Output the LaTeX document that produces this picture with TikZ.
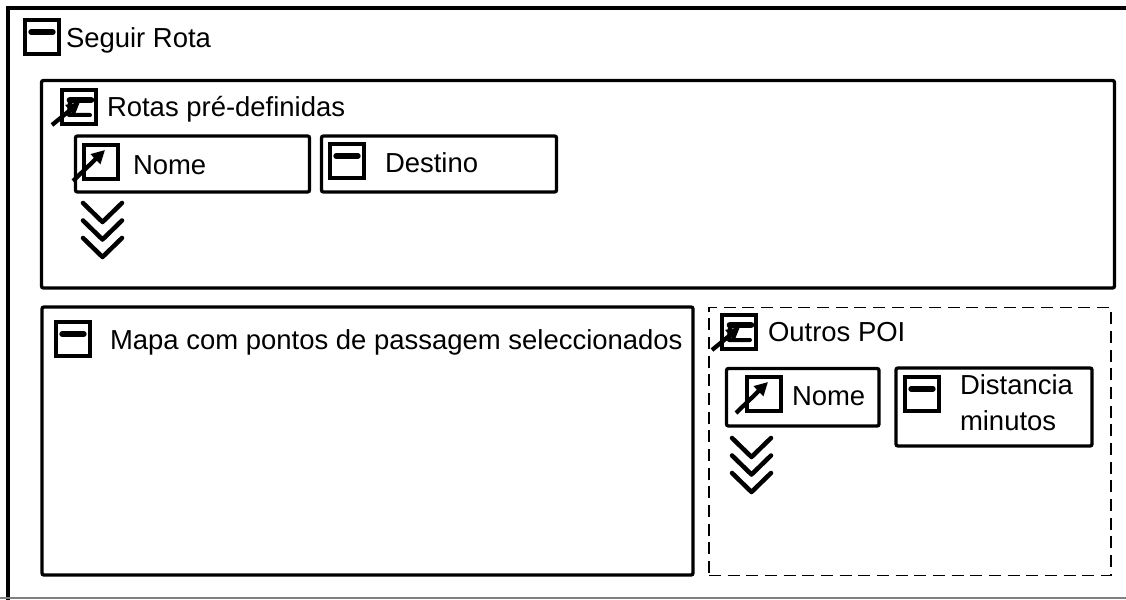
\documentclass[tikz,border=0pt]{standalone}
\usepackage{fontspec}
\setmainfont{Liberation Sans}
\usetikzlibrary{arrows.meta}
\begin{document}
\begin{tikzpicture}[x=0.75pt,y=-0.75pt,
  frame/.style={draw, line width=2.5pt, rounded corners=1.5pt, inner sep=0pt, outer sep=0pt, anchor=north west},
  dashframe/.style={draw, line width=1.4pt, dash pattern=on 9pt off 5pt, inner sep=0pt, outer sep=0pt, anchor=north west},
  lbl/.style={anchor=base west, inner sep=0pt, outer sep=0pt, font=\fontsize{20.6pt}{24pt}\selectfont},
  iconline/.style={line width=3.5pt},
  iconbar/.style={line width=4pt, line cap=round},
  iconarrow/.style={line width=3.2pt, -{Triangle[length=10pt,width=10pt]}},
  chevline/.style={line width=3.4pt, line cap=round, line join=round},
  minusicon/.pic={
    \draw[iconline] (2,2) rectangle (36,36);
    \draw[iconbar] (8,14) -- (30,14);
  },
  linkicon/.pic={
    \draw[iconline] (2,2) rectangle (36,36);
    \draw[iconarrow] (-9,38) -- (23,7);
  },
  conticon/.pic={
    \draw[iconline] (2,2) rectangle (36,36);
    \draw[iconbar, line width=5pt] (10,12) -- (31,12);
    \draw[line width=3pt, line cap=round, line join=round] (10,12) -- (9,27) -- (30,27);
    \draw[iconarrow] (-8,37) -- (20,14);
  },
  chevrons/.pic={
    \draw[chevline] (0,0) -- (19.5,19) -- (39,0);
    \draw[chevline] (0,17.5) -- (19.5,36.5) -- (39,17.5);
    \draw[chevline] (0,35) -- (19.5,54) -- (39,35);
  }
]
\useasboundingbox (0,0) rectangle (1126,599);
\fill[white] (0,0) rectangle (1126,599);
\clip (0,0) rectangle (1126,599);

% outer frame (cropped) and bottom border line
\coordinate (otr) at (1140,8);
\coordinate (otl) at (8,8);
\coordinate (obl) at (8,610);
\draw[line width=2.5pt] (otr) -- (otl) -- (obl);
\coordinate (gl) at (0,598);
\coordinate (gr) at (1126,598);
\draw[gray, line width=1pt] (gl) -- (gr);

\pic at (23,18) {minusicon};
\node[lbl] (tseguir) at (66,48) {Seguir Rota};

% Rotas pre-definidas
\node[frame, minimum width=1073*0.75pt, minimum height=207.5*0.75pt] (rotas) at (41.5,80.5) {};
\pic at (60,88) {conticon};
\node[lbl] (trotas) at (107,117) {Rotas pré-definidas};
\node[frame, minimum width=234*0.75pt, minimum height=56*0.75pt] (nome1) at (75.5,136) {};
\pic at (82,143) {linkicon};
\node[lbl] (tnome1) at (133,174) {Nome};
\node[frame, minimum width=235*0.75pt, minimum height=56*0.75pt] (destino) at (321.5,136) {};
\pic at (328,142) {minusicon};
\node[lbl] (tdestino) at (385,172) {Destino};
\pic at (83,203) {chevrons};

% Mapa
\node[frame, minimum width=651*0.75pt, minimum height=268*0.75pt] (mapa) at (42,307) {};
\pic at (54,320) {minusicon};
\node[lbl] (tmapa) at (110,349) {Mapa com pontos de passagem seleccionados};

% Outros POI
\node[dashframe, minimum width=402*0.75pt, minimum height=268*0.75pt] (outros) at (709,307.5) {};
\pic at (720,313) {conticon};
\node[lbl] (toutros) at (768,341) {Outros POI};
\node[frame, minimum width=152.5*0.75pt, minimum height=57.5*0.75pt] (nome2) at (726.5,368.5) {};
\pic at (745,375) {linkicon};
\node[lbl] (tnome2) at (792,405) {Nome};
\node[frame, minimum width=196*0.75pt, minimum height=78*0.75pt] (dist) at (896,368) {};
\pic at (903,375) {minusicon};
\node[lbl] (tdist) at (960,394) {Distancia};
\node[lbl] (tmin) at (960,430) {minutos};
\pic at (732,438) {chevrons};
\end{tikzpicture}
\end{document}
